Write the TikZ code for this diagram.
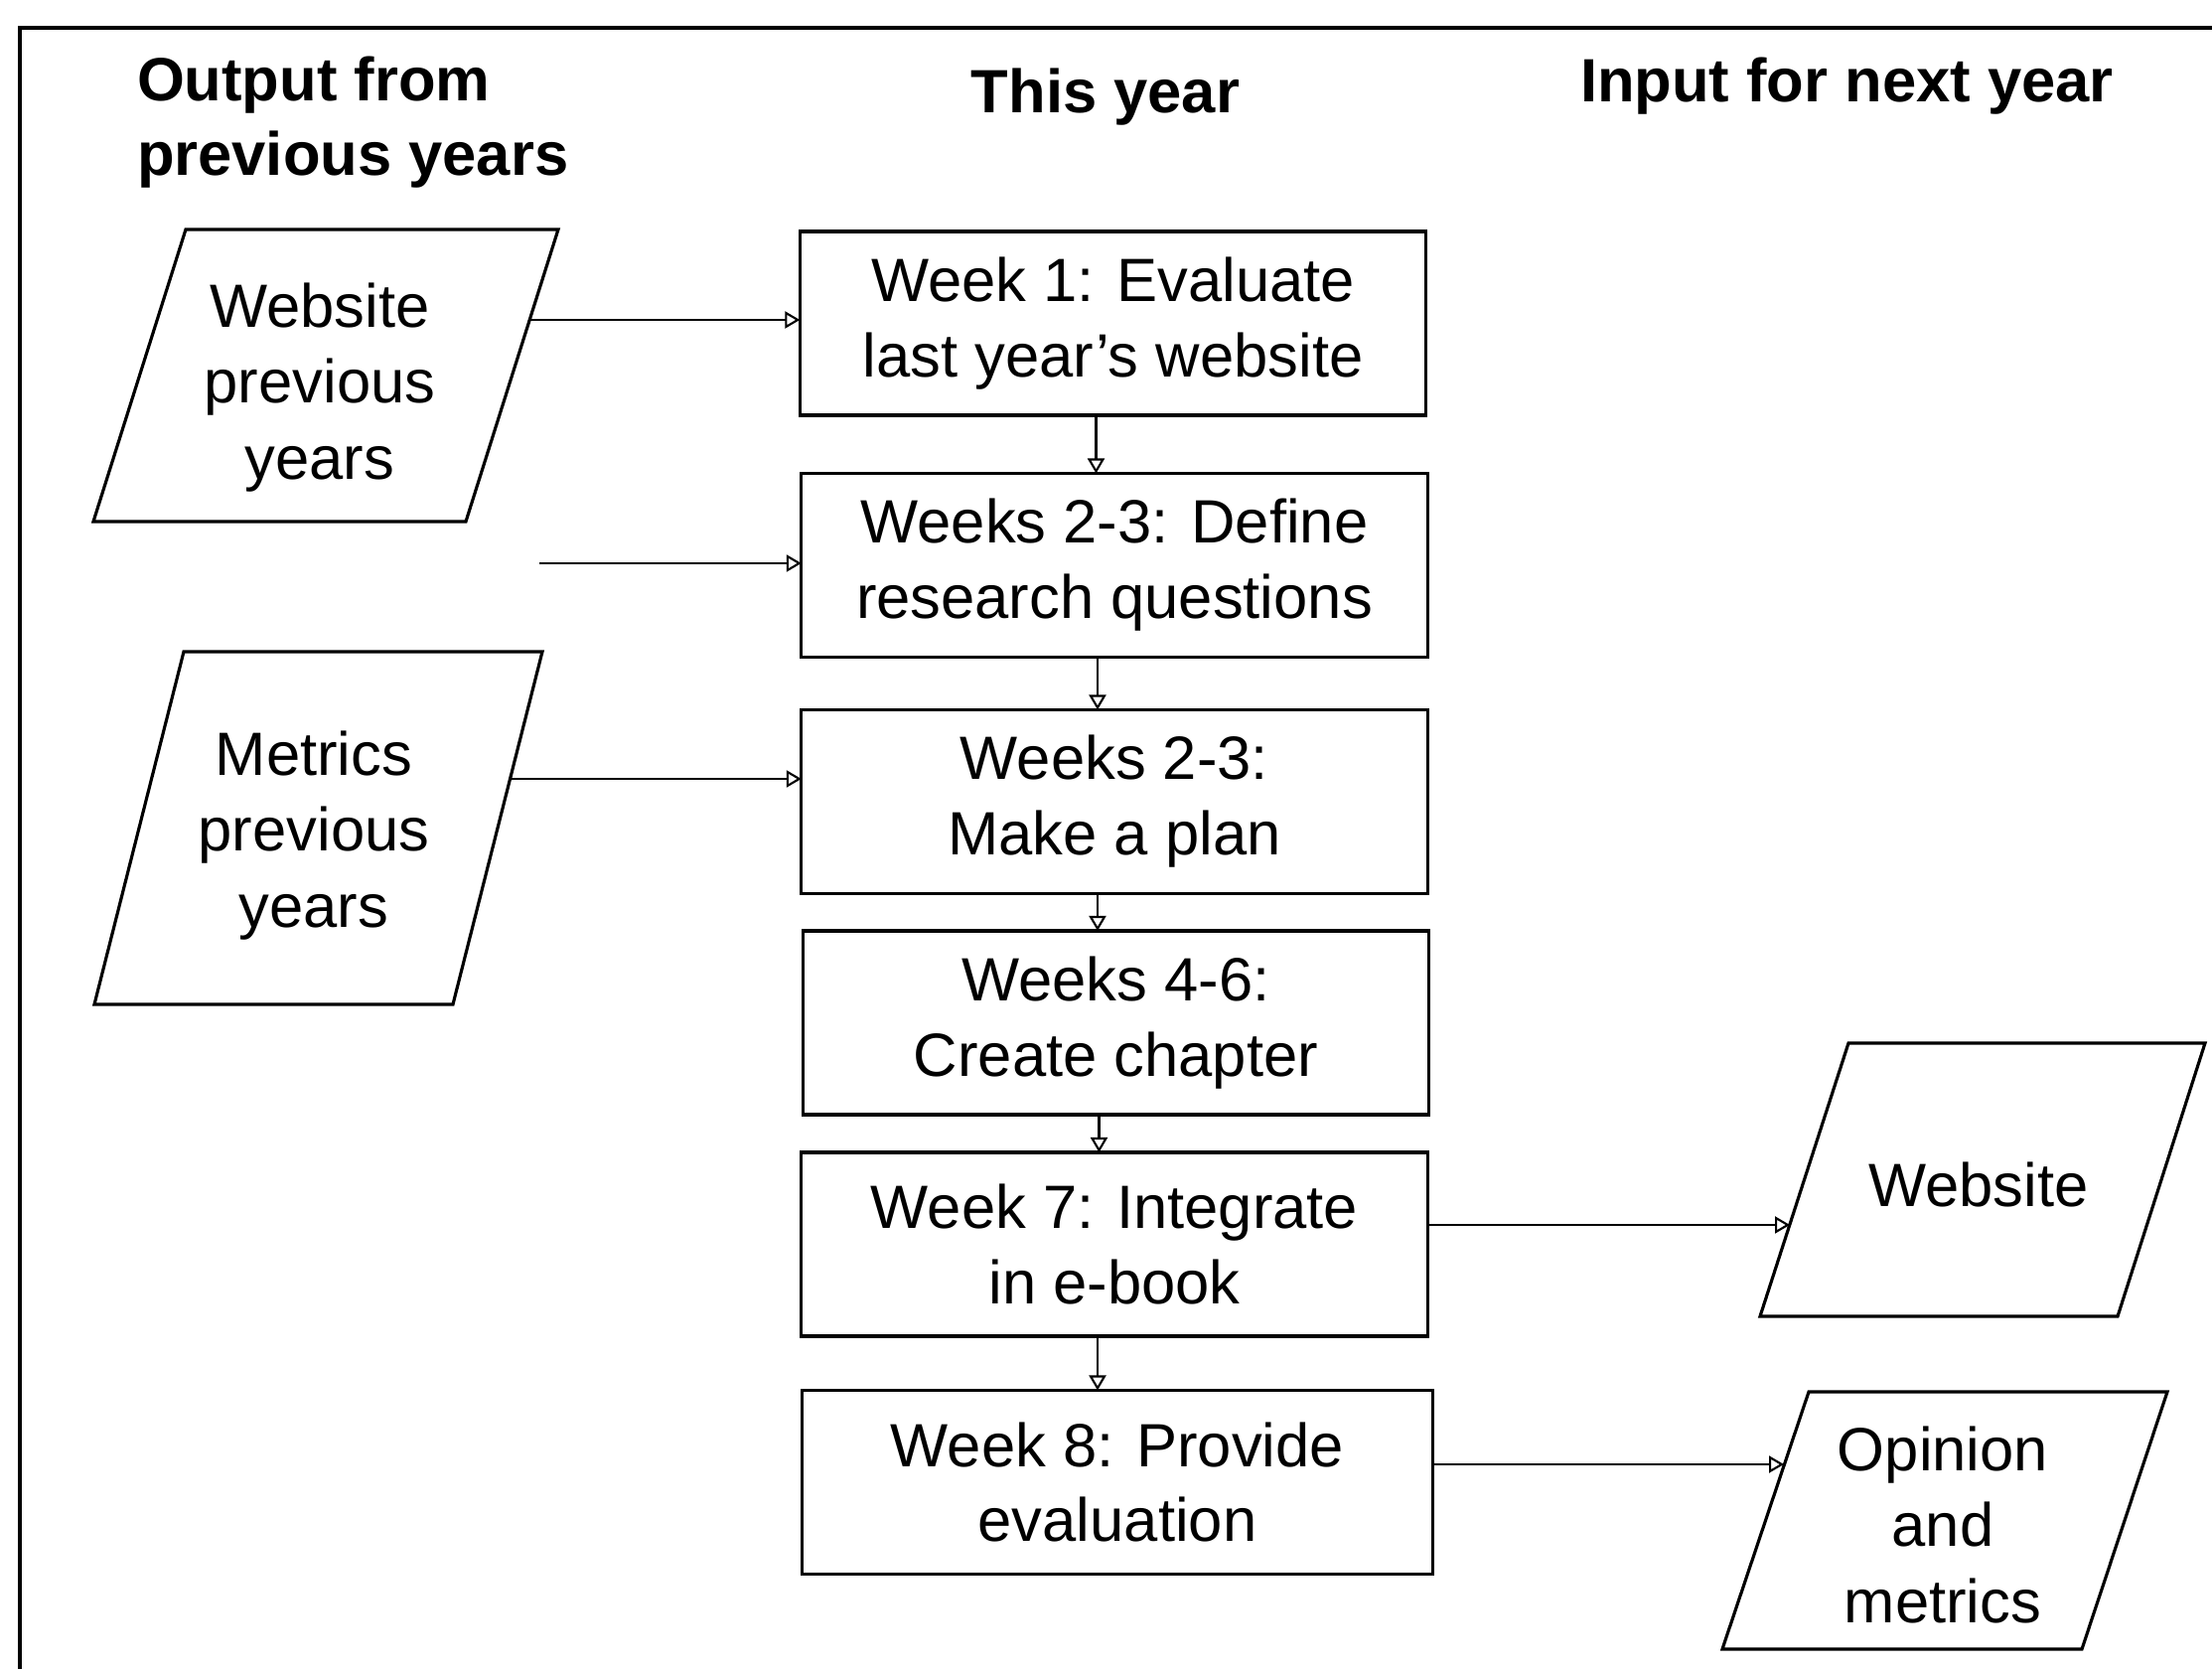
\documentclass[tikz,border=0pt]{standalone}
\usepackage{fontspec}
\setmainfont{Liberation Sans}
\usetikzlibrary{arrows.meta,calc}
\begin{document}
\begin{tikzpicture}[x=0.01cm,y=-0.01cm,
  every node/.style={inner sep=0pt, outer sep=0pt},
  stepbox/.style={draw, line width=0.9pt, minimum width=6.3cm, minimum height=1.85cm, align=center, font=\fontsize{17.5}{21.6}\selectfont},
  paratext/.style={align=center, font=\fontsize{17.5}{21.8}\selectfont},
  para/.style={draw, line width=0.9pt, line join=miter},
  head/.style={font=\fontsize{17.5}{21.3}\selectfont\bfseries, align=left},
  arr/.style={line width=0.6pt, -{Triangle[open,length=0.15cm,width=0.17cm]}},
  frameline/.style={line width=0.9pt}
]
\useasboundingbox (0,0) rectangle (2227,1680);
\draw[frameline] (2240,28) -- (20,28) -- (20,1690);

% headers
\node[head, anchor=north west] (h1) at (138,57) {Output from\\previous years};
\node[head, anchor=base] (h2) at (1113,114) {This year};
\node[head, anchor=base west] (h3) at (1591,103) {Input for next year};

% process boxes
\node[stepbox] (b1) at (1120.5,325.5) {Week 1: Evaluate\\last year's website};
\node[stepbox] (b2) at (1122,569) {Weeks 2-3: Define\\research questions};
\node[stepbox] (b3) at (1122,807) {Weeks 2-3:\\Make a plan};
\node[stepbox] (b4) at (1123.5,1029.5) {Weeks 4-6:\\Create chapter};
\node[stepbox] (b5) at (1122,1252.5) {Week 7: Integrate\\in e-book};
\node[stepbox, minimum width=6.34cm] (b6) at (1125,1492) {Week 8: Provide\\evaluation};

\foreach \a/\b in {b1/b2,b2/b3,b3/b4,b4/b5,b5/b6}
  \draw[arr] ([xshift=-0.17cm]\a.south) -- ([xshift=-0.17cm]\a.south |- \b.north);

% input / output parallelograms
\draw[para] (187,231) -- (562,231) -- (469,525) -- (94,525) -- cycle;
\node[paratext] (wp) at (322,390) {Website\\previous\\years};
\draw[para] (185,656) -- (546,656) -- (456,1011) -- (95,1011) -- cycle;
\node[paratext] (mp) at (316,841) {Metrics\\previous\\years};
\draw[para] (1861,1050) -- (2220,1050) -- (2132,1325) -- (1772,1325) -- cycle;
\node[paratext] (wn) at (1992,1193) {Website};
\draw[para] (1821,1401) -- (2182,1401) -- (2096,1660) -- (1734,1660) -- cycle;
\node[paratext] (om) at (1956,1535) {Opinion\\and\\metrics};

% connectors
\coordinate (wpout) at (533,322);
\draw[arr] (wpout) -- (wpout -| b1.west);
\coordinate (qin) at (543,567);
\draw[arr] (qin) -- (qin -| b2.west);
\coordinate (mpout) at (513,784);
\draw[arr] (mpout) -- (mpout -| b3.west);
\coordinate (wnin) at (1802,1233);
\draw[arr] (wnin -| b5.east) -- (wnin);
\coordinate (omin) at (1796,1474);
\draw[arr] (omin -| b6.east) -- (omin);
\end{tikzpicture}
\end{document}
